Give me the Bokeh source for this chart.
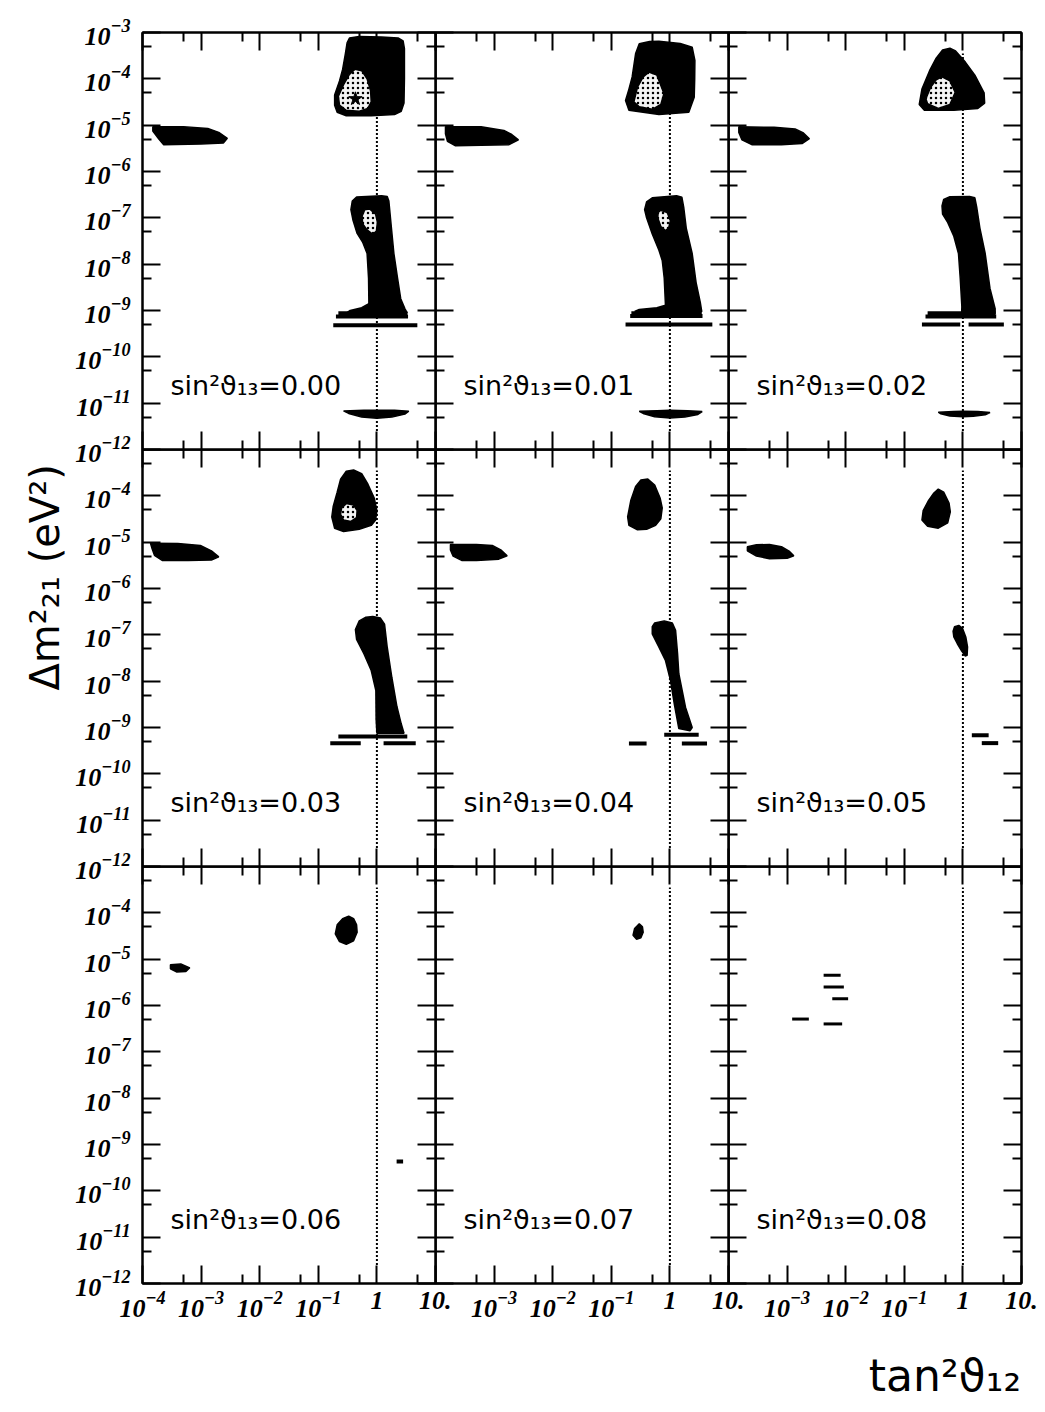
from bokeh.plotting import figure
from bokeh.models import LogAxis, FixedTicker, Label, Title, Range1d, CustomJSTickFormatter
from bokeh.layouts import column, row
from bokeh.embed import file_html
from bokeh.resources import INLINE

# ---------------- axes ----------------
X_RANGE = (1e-4, 10.0)
Y_RANGE = (1e-12, 1e-3)
x_major_ticks = [1e-4, 1e-3, 1e-2, 1e-1, 1.0, 10.0]
x_minor_ticks = [5e-4, 5e-3, 5e-2, 0.5, 5.0]
y_major_ticks = [1e-12, 1e-11, 1e-10, 1e-9, 1e-8, 1e-7, 1e-6, 1e-5, 1e-4, 1e-3]
y_minor_ticks = [5e-12, 5e-11, 5e-10, 5e-9, 5e-8, 5e-7, 5e-6, 5e-5, 5e-4]
x_tick_text = {1.0: "1", 10.0: "10."}

sin2_theta13 = ["0.00", "0.01", "0.02", "0.03", "0.04", "0.05", "0.06", "0.07", "0.08"]
maximal_mixing_x = [1.0, 1.0]
maximal_mixing_y = [2.5e-12, 3.5e-4]
label_x, label_y = 3.0e-4, 2.4e-11
x_title = "tan²ϑ₁₂"
y_title = "Δm²₂₁ (eV²)"

# ---------------- sin^2 theta13 = 0.00 ----------------
s00_lma_x = [0.34, 0.5, 1.2, 2.3, 2.8, 2.95, 2.95, 2.9, 2.6, 2.0, 0.8, 0.3, 0.21, 0.19, 0.19, 0.23, 0.26, 0.29, 0.31]
s00_lma_y = [7.6e-4, 8.2e-4, 8.0e-4, 7.6e-4, 6.6e-4, 4.5e-4, 1.0e-4, 3.0e-5, 2.0e-5, 1.7e-5, 1.6e-5, 1.6e-5, 1.9e-5, 2.7e-5, 4.5e-5, 9e-5, 1.6e-4, 3.5e-4, 6.0e-4]
s00_lma_in_x = [0.42, 0.55, 0.68, 0.78, 0.8, 0.7, 0.5, 0.3, 0.23, 0.22, 0.27, 0.34]
s00_lma_in_y = [1.6e-4, 1.5e-4, 1.0e-4, 5.5e-5, 3.2e-5, 2.3e-5, 2.0e-5, 2.1e-5, 2.7e-5, 4.2e-5, 7.5e-5, 1.25e-4]
s00_sma_x = [1.5e-4, 5e-4, 1.3e-3, 2.0e-3, 2.8e-3, 2.4e-3, 1.0e-3, 2.3e-4, 1.9e-4, 1.5e-4]
s00_sma_y = [9.2e-6, 9.3e-6, 8.5e-6, 7.0e-6, 5.2e-6, 4.1e-6, 3.9e-6, 3.8e-6, 5.0e-6, 7.5e-6]
s00_low_x = [0.38, 0.45, 1.2, 1.5, 1.6, 1.75, 1.95, 2.25, 2.55, 3.0, 3.3, 0.3, 0.35, 0.55, 0.73, 0.72, 0.68, 0.57, 0.46, 0.39, 0.36]
s00_low_y = [2.3e-7, 2.8e-7, 3.0e-7, 2.9e-7, 2.3e-7, 7e-8, 1.7e-8, 5e-9, 1.8e-9, 1.1e-9, 8.8e-10, 8.8e-10, 1.0e-9, 1.15e-9, 1.4e-9, 5e-9, 1.7e-8, 3e-8, 4.6e-8, 9e-8, 1.5e-7]
s00_low_in_x = [0.62, 0.75, 0.95, 1.02, 0.98, 0.85, 0.68, 0.57, 0.56]
s00_low_in_y = [1.5e-7, 1.55e-7, 1.2e-7, 8e-8, 5.2e-8, 4.4e-8, 5.5e-8, 7.5e-8, 1.1e-7]
s00_js_x = [0.27, 0.6, 1.0, 2.0, 3.5, 3.0, 1.8, 1.0, 0.55, 0.33]
s00_js_y = [6.8e-12, 7.0e-12, 7.0e-12, 7.0e-12, 6.7e-12, 5.8e-12, 5.0e-12, 4.7e-12, 5.0e-12, 6.0e-12]
s00_vac_y = [8.7e-10, 7.4e-10, 4.8e-10]
s00_vac_x0 = [0.22, 0.2, 0.18]
s00_vac_x1 = [3.3, 3.4, 4.9]
s00_best_x = [0.43]
s00_best_y = [3.7e-5]

# ---------------- sin^2 theta13 = 0.01 ----------------
s01_lma_x = [0.30, 0.45, 0.65, 1.5, 2.4, 2.67, 2.65, 2.6, 2.1, 0.65, 0.2, 0.175, 0.2, 0.227, 0.26]
s01_lma_y = [5.7e-4, 6.4e-4, 6.5e-4, 5.8e-4, 4.8e-4, 2.5e-4, 1e-4, 4e-5, 1.9e-5, 1.7e-5, 2.1e-5, 3.4e-5, 6e-5, 1.1e-4, 3.5e-4]
s01_lma_in_x = [0.437, 0.6, 0.79, 0.7, 0.5, 0.3, 0.243, 0.28, 0.35]
s01_lma_in_y = [1.4e-4, 1.2e-4, 4.8e-5, 2.8e-5, 2.2e-5, 2.5e-5, 3.2e-5, 6.6e-5, 1.1e-4]
s01_sma_x = [1.48e-4, 6e-4, 1.47e-3, 2.0e-3, 2.6e-3, 1.8e-3, 6e-4, 2.2e-4, 1.6e-4, 1.48e-4]
s01_sma_y = [9.3e-6, 9.2e-6, 7.7e-6, 6.3e-6, 4.8e-6, 3.8e-6, 3.7e-6, 3.6e-6, 4.5e-6, 6.5e-6]
s01_low_x = [0.40, 0.5, 1.3, 1.6, 1.72, 1.9, 2.4, 2.8, 3.3, 3.5, 0.25, 0.3, 0.6, 0.84, 0.8, 0.74, 0.65, 0.5, 0.4, 0.37]
s01_low_y = [2.2e-7, 2.7e-7, 3.0e-7, 2.8e-7, 1.7e-7, 6e-8, 1.7e-8, 4e-9, 1.5e-9, 9.5e-10, 9.5e-10, 1.05e-9, 1.15e-9, 1.3e-9, 5e-9, 1.2e-8, 2.0e-8, 4.5e-8, 1.0e-7, 1.5e-7]
s01_low_in_x = [0.69, 0.9, 1.02, 0.95, 0.84, 0.7, 0.62, 0.63]
s01_low_in_y = [1.45e-7, 1.3e-7, 8.7e-8, 6e-8, 5.3e-8, 6.5e-8, 1.0e-7, 1.3e-7]
s01_js_x = [0.30, 0.6, 1.0, 2.0, 3.55, 3.0, 1.8, 1.0, 0.55, 0.35]
s01_js_y = [6.7e-12, 6.9e-12, 7.0e-12, 6.9e-12, 6.6e-12, 5.7e-12, 5.0e-12, 4.8e-12, 5.1e-12, 6.0e-12]
s01_vac_y = [8.7e-10, 7.6e-10, 5.0e-10]
s01_vac_x0 = [0.22, 0.21, 0.175]
s01_vac_x1 = [3.5, 3.6, 5.3]

# ---------------- sin^2 theta13 = 0.02 ----------------
s02_lma_x = [0.45, 0.6, 0.75, 1.1, 1.6, 2.3, 2.35, 1.8, 0.7, 0.22, 0.18, 0.2, 0.27, 0.35]
s02_lma_y = [4.2e-4, 4.6e-4, 4.0e-4, 2.3e-4, 1.2e-4, 5e-5, 3e-5, 2.3e-5, 2.1e-5, 2.1e-5, 2.8e-5, 6e-5, 1.5e-4, 2.8e-4]
s02_lma_in_x = [0.44, 0.6, 0.74, 0.6, 0.38, 0.25, 0.233, 0.28, 0.35]
s02_lma_in_y = [1.1e-4, 9e-5, 5.1e-5, 2.8e-5, 2.3e-5, 2.9e-5, 3.7e-5, 6.5e-5, 9.5e-5]
s02_sma_x = [1.5e-4, 6e-4, 1.37e-3, 1.9e-3, 2.4e-3, 1.8e-3, 8e-4, 2.5e-4, 1.7e-4, 1.5e-4]
s02_sma_y = [9.2e-6, 9.0e-6, 8.3e-6, 6.8e-6, 5.1e-6, 4.0e-6, 3.8e-6, 3.8e-6, 4.8e-6, 7.0e-6]
s02_low_x = [0.47, 0.6, 1.3, 1.6, 1.72, 1.95, 2.4, 2.9, 3.55, 3.55, 0.95, 0.96, 0.9, 0.84, 0.7, 0.55, 0.45, 0.44]
s02_low_y = [2.5e-7, 2.85e-7, 2.9e-7, 2.7e-7, 1.7e-7, 6e-8, 1.7e-8, 3e-9, 1.1e-9, 8.5e-10, 8.5e-10, 1.2e-9, 5e-9, 1.7e-8, 4e-8, 8e-8, 1.2e-7, 1.8e-7]
s02_js_x = [0.38, 0.7, 1.0, 1.8, 2.9, 2.4, 1.5, 1.0, 0.6, 0.42]
s02_js_y = [6.4e-12, 6.6e-12, 6.7e-12, 6.6e-12, 6.3e-12, 5.6e-12, 5.2e-12, 5.1e-12, 5.3e-12, 5.9e-12]
s02_vac_y = [8.7e-10, 7.4e-10, 5.0e-10, 5.0e-10]
s02_vac_x0 = [0.25, 0.23, 0.2, 1.25]
s02_vac_x1 = [3.6, 3.7, 0.9, 5.0]

# ---------------- sin^2 theta13 = 0.03 ----------------
s03_lma_x = [0.3, 0.4, 0.55, 0.7, 0.9, 1.0, 0.95, 0.8, 0.5, 0.27, 0.19, 0.17, 0.18, 0.21, 0.24]
s03_lma_y = [3.4e-4, 3.6e-4, 3.0e-4, 1.8e-4, 9e-5, 4.8e-5, 3.0e-5, 2.3e-5, 1.9e-5, 1.7e-5, 2.0e-5, 3.5e-5, 6e-5, 1.2e-4, 2.3e-4]
s03_lma_in_x = [0.30, 0.40, 0.46, 0.45, 0.36, 0.27, 0.24, 0.25]
s03_lma_in_y = [6.8e-5, 6.3e-5, 4.8e-5, 3.4e-5, 2.8e-5, 3.0e-5, 4.0e-5, 5.5e-5]
s03_sma_x = [1.37e-4, 4e-4, 9.7e-4, 1.5e-3, 2.0e-3, 1.5e-3, 6e-4, 2.2e-4, 1.6e-4, 1.46e-4]
s03_sma_y = [9.5e-6, 9.4e-6, 8.5e-6, 6.5e-6, 4.8e-6, 4.1e-6, 4.0e-6, 4.0e-6, 5.2e-6, 7.2e-6]
s03_low_x = [0.5, 0.65, 0.85, 1.15, 1.35, 1.5, 1.8, 2.2, 2.6, 2.9, 1.0, 0.97, 0.96, 0.8, 0.6, 0.45, 0.43]
s03_low_y = [2.0e-7, 2.4e-7, 2.5e-7, 2.3e-7, 1.7e-7, 5.4e-8, 1.2e-8, 2.8e-9, 1.2e-9, 7.5e-10, 7.5e-10, 1.5e-9, 6.3e-9, 1.7e-8, 3.9e-8, 8e-8, 1.3e-7]
s03_vac_y = [6.4e-10, 4.6e-10, 4.6e-10]
s03_vac_x0 = [0.22, 0.16, 1.3]
s03_vac_x1 = [3.3, 0.53, 4.6]

# ---------------- sin^2 theta13 = 0.04 ----------------
s04_lma_x = [0.32, 0.42, 0.55, 0.68, 0.74, 0.7, 0.57, 0.4, 0.28, 0.2, 0.19, 0.215, 0.26]
s04_lma_y = [2.2e-4, 2.3e-4, 1.7e-4, 9e-5, 5.5e-5, 3.2e-5, 2.3e-5, 1.9e-5, 1.85e-5, 2.3e-5, 3.5e-5, 7.9e-5, 1.6e-4]
s04_sma_x = [1.8e-4, 5e-4, 9.3e-4, 1.3e-3, 1.67e-3, 1.2e-3, 5e-4, 2.85e-4, 2.0e-4, 1.8e-4]
s04_sma_y = [8.9e-6, 8.9e-6, 8.5e-6, 6.8e-6, 5.1e-6, 4.3e-6, 4.0e-6, 4.0e-6, 5.0e-6, 6.8e-6]
s04_low_x = [0.55, 0.8, 1.1, 1.25, 1.35, 1.42, 1.85, 2.4, 2.2, 1.42, 1.2, 1.02, 0.84, 0.65, 0.5, 0.5]
s04_low_y = [1.8e-7, 2.0e-7, 1.8e-7, 1.25e-7, 4e-8, 1.45e-8, 2.7e-9, 1.0e-9, 8.5e-10, 9.5e-10, 3e-9, 1.05e-8, 2.8e-8, 5.4e-8, 1.05e-7, 1.5e-7]
s04_vac_y = [7.0e-10, 4.5e-10, 4.5e-10]
s04_vac_x0 = [0.8, 0.2, 1.6]
s04_vac_x1 = [3.1, 0.4, 4.3]

# ---------------- sin^2 theta13 = 0.05 ----------------
s05_lma_x = [0.38, 0.47, 0.58, 0.61, 0.55, 0.38, 0.25, 0.2, 0.21, 0.26, 0.32]
s05_lma_y = [1.4e-4, 1.2e-4, 7e-5, 4.5e-5, 2.6e-5, 2.0e-5, 2.2e-5, 3e-5, 4.8e-5, 8e-5, 1.15e-4]
s05_sma_x = [2.1e-4, 3e-4, 5e-4, 8e-4, 1.1e-3, 1.3e-3, 1.0e-3, 5e-4, 3e-4, 2.1e-4]
s05_sma_y = [8.0e-6, 8.8e-6, 8.9e-6, 8.0e-6, 6.3e-6, 5.1e-6, 4.5e-6, 4.4e-6, 5.0e-6, 6.5e-6]
s05_low_x = [0.72, 0.85, 0.98, 1.12, 1.2, 1.18, 1.1, 0.95, 0.8, 0.7, 0.68]
s05_low_y = [1.5e-7, 1.6e-7, 1.4e-7, 9e-8, 5.5e-8, 3.6e-8, 3.5e-8, 4.5e-8, 6.5e-8, 9e-8, 1.2e-7]
s05_vac_y = [6.8e-10, 4.6e-10]
s05_vac_x0 = [1.42, 2.1]
s05_vac_x1 = [2.75, 4.0]

# ---------------- sin^2 theta13 = 0.06 ----------------
s06_lma_x = [0.33, 0.4, 0.45, 0.46, 0.4, 0.3, 0.23, 0.195, 0.21, 0.26]
s06_lma_y = [8.5e-5, 7.5e-5, 5.5e-5, 3.8e-5, 2.5e-5, 2.1e-5, 2.4e-5, 3.5e-5, 5.5e-5, 7.5e-5]
s06_sma_x = [3.0e-4, 4.5e-4, 6.4e-4, 5.5e-4, 3.8e-4, 3.0e-4]
s06_sma_y = [7.6e-6, 7.9e-6, 6.5e-6, 5.4e-6, 5.3e-6, 6.2e-6]
s06_vac_y = [4.3e-10]
s06_vac_x0 = [2.17]
s06_vac_x1 = [2.8]

# ---------------- sin^2 theta13 = 0.07 ----------------
s07_lma_x = [0.3, 0.34, 0.35, 0.32, 0.27, 0.235, 0.25]
s07_lma_y = [5.8e-5, 5.0e-5, 3.8e-5, 2.9e-5, 2.7e-5, 3.3e-5, 4.6e-5]

# ---------------- sin^2 theta13 = 0.08 ----------------
s08_frag_y = [4.5e-6, 2.5e-6, 1.4e-6, 5.1e-7, 4.0e-7]
s08_frag_x0 = [4.2e-3, 4.2e-3, 5.9e-3, 1.22e-3, 4.2e-3]
s08_frag_x1 = [8.2e-3, 9.3e-3, 1.1e-2, 2.35e-3, 8.7e-3]

panels = [
    dict(black=[(s00_lma_x, s00_lma_y), (s00_sma_x, s00_sma_y), (s00_low_x, s00_low_y), (s00_js_x, s00_js_y)],
         light=[(s00_lma_in_x, s00_lma_in_y), (s00_low_in_x, s00_low_in_y)],
         stripes=(s00_vac_y, s00_vac_x0, s00_vac_x1), best=(s00_best_x, s00_best_y)),
    dict(black=[(s01_lma_x, s01_lma_y), (s01_sma_x, s01_sma_y), (s01_low_x, s01_low_y), (s01_js_x, s01_js_y)],
         light=[(s01_lma_in_x, s01_lma_in_y), (s01_low_in_x, s01_low_in_y)],
         stripes=(s01_vac_y, s01_vac_x0, s01_vac_x1)),
    dict(black=[(s02_lma_x, s02_lma_y), (s02_sma_x, s02_sma_y), (s02_low_x, s02_low_y), (s02_js_x, s02_js_y)],
         light=[(s02_lma_in_x, s02_lma_in_y)],
         stripes=(s02_vac_y, s02_vac_x0, s02_vac_x1)),
    dict(black=[(s03_lma_x, s03_lma_y), (s03_sma_x, s03_sma_y), (s03_low_x, s03_low_y)],
         light=[(s03_lma_in_x, s03_lma_in_y)],
         stripes=(s03_vac_y, s03_vac_x0, s03_vac_x1)),
    dict(black=[(s04_lma_x, s04_lma_y), (s04_sma_x, s04_sma_y), (s04_low_x, s04_low_y)],
         stripes=(s04_vac_y, s04_vac_x0, s04_vac_x1)),
    dict(black=[(s05_lma_x, s05_lma_y), (s05_sma_x, s05_sma_y), (s05_low_x, s05_low_y)],
         stripes=(s05_vac_y, s05_vac_x0, s05_vac_x1)),
    dict(black=[(s06_lma_x, s06_lma_y), (s06_sma_x, s06_sma_y)],
         stripes=(s06_vac_y, s06_vac_x0, s06_vac_x1)),
    dict(black=[(s07_lma_x, s07_lma_y)]),
    dict(fragments=(s08_frag_y, s08_frag_x0, s08_frag_x1)),
]

FW, FH = 293, 417
LEFT, RIGHT, TOP, BOTTOM = 142, 20, 32, 125
SX, SY = 16, 22          # overlap slack between neighbouring canvases
TICK_FONT = "Liberation Serif"
LABEL_FONT = "DejaVu Sans"


def style_axis(ax, ticker, show_labels, overrides=None):
    ax.ticker = ticker
    ax.major_tick_in = 18
    ax.major_tick_out = 0
    ax.minor_tick_in = 9
    ax.minor_tick_out = 0
    ax.major_tick_line_width = 2
    ax.minor_tick_line_width = 2
    ax.major_tick_line_color = "black"
    ax.minor_tick_line_color = "black"
    ax.axis_line_width = 2
    ax.axis_line_color = "black"
    if show_labels:
        ax.major_label_text_font = TICK_FONT
        ax.major_label_text_font_style = "bold italic"
        ax.major_label_text_font_size = "26px"
        ax.major_label_text_color = "black"
        if overrides:
            ax.major_label_overrides = overrides
    else:
        ax.formatter = CustomJSTickFormatter(code="return ''")
        ax.major_label_text_font_size = "1px"
        ax.major_label_standoff = 0


figs = []
for i, pdata in enumerate(panels):
    r, c = divmod(i, 3)
    p = figure(x_axis_type="log", y_axis_type="log",
               x_range=Range1d(*X_RANGE), y_range=Range1d(*Y_RANGE),
               frame_width=FW, frame_height=FH,
               min_border_left=LEFT if c == 0 else 0,
               min_border_right=RIGHT if c == 2 else SX,
               min_border_top=TOP if r == 0 else 0,
               min_border_bottom=BOTTOM if r == 2 else SY,
               margin=(-SY if r > 0 else 0, 0, 0, -SX if c > 0 else 0),
               output_backend="svg", toolbar_location=None)
    p.xgrid.visible = False
    p.ygrid.visible = False
    p.outline_line_color = "black"
    p.outline_line_width = 2
    p.background_fill_color = None
    p.border_fill_color = None

    bottom_axis = p.xaxis[0]
    left_axis = p.yaxis[0]
    xt = x_major_ticks if c == 0 else x_major_ticks[1:]
    yt = y_major_ticks if r == 0 else y_major_ticks[:-1]
    style_axis(bottom_axis, FixedTicker(ticks=xt, minor_ticks=x_minor_ticks), r == 2, x_tick_text)
    if r == 2:
        bottom_axis.major_label_standoff = 8
    style_axis(left_axis, FixedTicker(ticks=yt, minor_ticks=y_minor_ticks), c == 0)
    if c == 0:
        left_axis.major_label_standoff = 12
    top = LogAxis()
    style_axis(top, FixedTicker(ticks=x_major_ticks, minor_ticks=x_minor_ticks), False)
    p.add_layout(top, "above")
    right = LogAxis()
    style_axis(right, FixedTicker(ticks=y_major_ticks, minor_ticks=y_minor_ticks), False)
    p.add_layout(right, "right")

    p.line(maximal_mixing_x, maximal_mixing_y, line_dash="2 2", line_width=2, color="black")

    black = pdata.get("black", [])
    if black:
        p.patches([b[0] for b in black], [b[1] for b in black],
                  fill_color="black", line_color="black", line_width=1.5)
    light = pdata.get("light", [])
    if light:
        p.patches([l[0] for l in light], [l[1] for l in light],
                  fill_color="#f4f4f4", hatch_pattern=".", hatch_color="black",
                  hatch_scale=5, hatch_weight=1.2,
                  line_color="black", line_width=1.5)
    if "stripes" in pdata:
        sy, sx0, sx1 = pdata["stripes"]
        p.segment(x0=sx0, y0=sy, x1=sx1, y1=sy, line_width=4, color="black")
    if "fragments" in pdata:
        fy, fx0, fx1 = pdata["fragments"]
        p.segment(x0=fx0, y0=fy, x1=fx1, y1=fy, line_width=3, color="black")
    if "best" in pdata:
        bx, by = pdata["best"]
        p.scatter(bx, by, marker="star", size=14, color="black")

    p.add_layout(Label(x=label_x, y=label_y, text="sin²ϑ₁₃=" + sin2_theta13[i],
                       text_font=LABEL_FONT, text_font_size="27px",
                       text_baseline="middle", text_color="black"))

    if i == 3:
        p.add_layout(Title(text=y_title, align="left", offset=176,
                           text_font=LABEL_FONT, text_font_size="40px",
                           text_font_style="normal", text_color="black"), "left")
    if i == 8:
        # centred axis label, padded on the left so the visible text ends at the frame's right edge
        bottom_axis.axis_label = "\u00a0" * 10 + x_title
        bottom_axis.axis_label_align = "center"
        bottom_axis.axis_label_text_font = LABEL_FONT
        bottom_axis.axis_label_text_font_size = "44px"
        bottom_axis.axis_label_text_font_style = "normal"
        bottom_axis.axis_label_text_color = "black"
        bottom_axis.axis_label_standoff = 30
    figs.append(p)

layout = column(row(*figs[0:3]), row(*figs[3:6]), row(*figs[6:9]))

with open("out.html", "w") as f:
    f.write(file_html(layout, INLINE))
